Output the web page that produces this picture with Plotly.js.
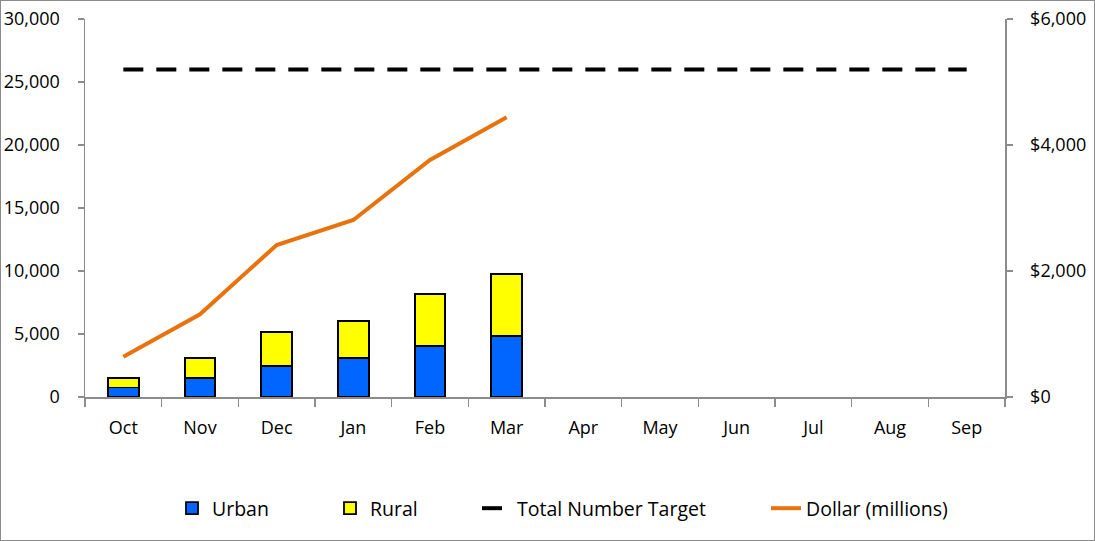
<!DOCTYPE html>
<html><head><meta charset="utf-8">
<script src="https://cdn.plot.ly/plotly-3.0.1.min.js"></script>
<style>
html,body{margin:0;padding:0;background:#fff;}
#wrap{width:1095px;height:541px;box-sizing:border-box;border:1px solid #8c8c8c;overflow:hidden;}
#chart{width:1093px;height:539px;}
</style></head>
<body><div id="wrap"><div id="chart"></div></div>
<script>
const months = ["Oct","Nov","Dec","Jan","Feb","Mar","Apr","May","Jun","Jul","Aug","Sep"];
const activeMonths = ["Oct","Nov","Dec","Jan","Feb","Mar"];
const urban = [750, 1510, 2440, 3120, 4020, 4840];
const rural = [790, 1610, 2690, 2940, 4180, 4950];
const target = [26000,26000,26000,26000,26000,26000,26000,26000,26000,26000,26000,26000];
const dollars = [640, 1313, 2413, 2810, 3762, 4440];

const font = {family: "'Open Sans', sans-serif", size: 18, color: "#000"};
const legFont = {family: "'Open Sans', sans-serif", size: 19.5, color: "#000"};

const traces = [
  {type:"bar", name:"Urban", x:activeMonths, y:urban, legend:"legend",
   marker:{color:"#0066FF", line:{color:"#000", width:1.8}}},
  {type:"bar", name:"Rural", x:activeMonths, y:rural, legend:"legend2",
   marker:{color:"#FFFF00", line:{color:"#000", width:1.8}}},
  {type:"scatter", mode:"lines", name:"Total Number Target", x:months, y:target, legend:"legend3",
   line:{color:"#000", width:4, dash:"20px,13px"}},
  {type:"scatter", mode:"lines", name:"Dollar (millions)", x:activeMonths, y:dollars, yaxis:"y2", legend:"legend4",
   line:{color:"#E8720C", width:4}}
];

function leg(textStartPx){
  return {orientation:"h", x:(textStartPx - 41 - 84)/920, xanchor:"left", y:-0.295, yanchor:"middle",
          font:legFont, bgcolor:"rgba(0,0,0,0)"};
}

const layout = {
  width:1093, height:539,
  margin:{l:84, r:89, t:18, b:143},
  paper_bgcolor:"#fff", plot_bgcolor:"#fff",
  font:font,
  barmode:"stack", bargap:0.6,
  showlegend:true,
  legend:leg(212), legend2:leg(370), legend3:leg(517), legend4:leg(806),
  xaxis:{type:"category", categoryorder:"array", categoryarray:months, range:[-0.5,11.5],
    showline:true, linecolor:"#8c8c8c", linewidth:1.5, ticks:"outside", tickson:"boundaries",
    ticklen:8, tickcolor:"#8c8c8c", tickwidth:1.5, showgrid:false, ticklabelstandoff:14, fixedrange:true},
  yaxis:{range:[0,30000], dtick:5000, tickformat:",", showline:true, linecolor:"#8c8c8c", linewidth:1.5,
    ticks:"outside", ticklen:6, tickcolor:"#8c8c8c", tickwidth:1.5, showgrid:false, zeroline:false, ticklabelstandoff:14},
  yaxis2:{overlaying:"y", side:"right", range:[0,6000], dtick:2000, tickformat:"$,", showline:true,
    linecolor:"#8c8c8c", linewidth:1.5, ticks:"outside", ticklen:6, tickcolor:"#8c8c8c", tickwidth:1.5,
    showgrid:false, zeroline:false, ticklabelstandoff:14}
};

Plotly.newPlot("chart", traces, layout, {displayModeBar:false, staticPlot:true});
</script></body></html>
